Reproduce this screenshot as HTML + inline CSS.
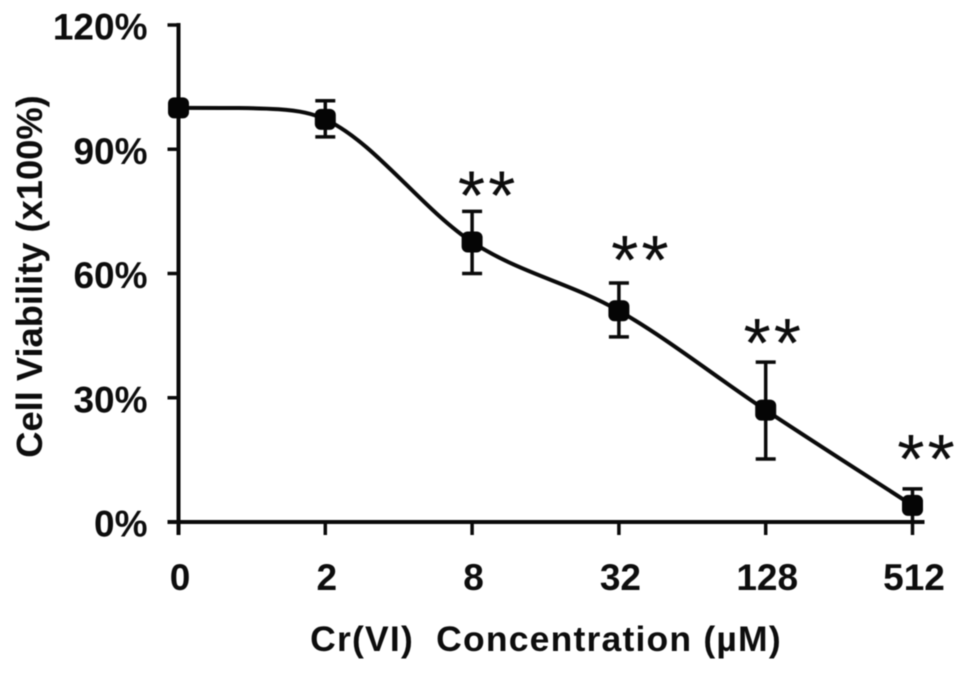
<!DOCTYPE html>
<html>
<head>
<meta charset="utf-8">
<style>
html,body{margin:0;padding:0;background:#fff;width:969px;height:673px;overflow:hidden}
svg{display:block;filter:blur(0.6px)}
text{font-family:"Liberation Sans",sans-serif;fill:#0d0d0d}
.tick{font-size:37px;font-weight:bold}
.title{font-weight:bold}
.star{font-size:70px;font-weight:normal}
</style>
</head>
<body>
<svg id="chart" width="969" height="673" viewBox="0 0 969 673" xmlns="http://www.w3.org/2000/svg">
  <text class="title" x="546" y="651" text-anchor="middle" font-size="35.5" letter-spacing="1.2" xml:space="preserve">Cr(VI)  Concentration (µM)</text>
  <text class="title" transform="translate(42,276.5) rotate(-90)" text-anchor="middle" font-size="36.3">Cell Viability (x100%)</text>
</svg>
<script>
const categories = ['0', '2', '8', '32', '128', '512'];
const viability = [100, 97.2, 67.6, 51, 27, 4];
const errorUpper = [100, 101.7, 75, 57.7, 38.6, 8];
const errorLower = [100, 93, 60, 44.7, 15.2, 0];
const significance = ['', '', '**', '**', '**', '**'];
const yTicks = [0, 30, 60, 90, 120];

const svg = document.getElementById('chart');
const NS = 'http://www.w3.org/2000/svg';
const xStart = 178.5, xStep = 146.8;
const yZero = 522, yScale = 124.25 / 30;
function xAxis(i) { return xStart + i * xStep; }
function yAxis(v) { return yZero - v * yScale; }
function make(tag, attrs, parent) {
  const el = document.createElementNS(NS, tag);
  for (const k in attrs) el.setAttribute(k, attrs[k]);
  (parent || svg).appendChild(el);
  return el;
}
function line(x1, y1, x2, y2, w) {
  return make('line', { x1: x1, y1: y1, x2: x2, y2: y2, stroke: '#0a0a0a', 'stroke-width': w });
}

const yAxisLine = line(xAxis(0), yAxis(120) - 2, xAxis(0), yAxis(0) + 13, 4);


const xAxisLine = line(xAxis(0) - 11, yAxis(0), xAxis(5) + 12, yAxis(0), 4);



yTicks.forEach(function (t) {
  const tk = line(xAxis(0) - 11, yAxis(t), xAxis(0), yAxis(t), 3.5);
  
  
  const lb = make('text', { class: 'tick', x: 147.5, y: yAxis(t) + 14.5, 'text-anchor': 'end' });
  lb.textContent = t + '%';
  
  
});

categories.forEach(function (c, i) {
  const tk = line(xAxis(i), yAxis(0), xAxis(i), yAxis(0) + 13, 3.5);
  
  
  const lb = make('text', { class: 'tick', x: xAxis(i) + 1.5, y: 590, 'text-anchor': 'middle' });
  lb.textContent = c;
  
  
});

/* smooth curve through the data: Catmull-Rom tangents, with handles
   shortened where they would otherwise overshoot a shallow segment */
const px = viability.map(function (v, i) { return xAxis(i); });
const py = viability.map(function (v) { return yAxis(v); });
const slopes = [];
for (let i = 0; i < px.length - 1; i++) slopes.push((py[i + 1] - py[i]) / (px[i + 1] - px[i]));
const tangents = px.map(function (x, i) {
  if (i === 0) return 0;
  if (i === px.length - 1) return slopes[i - 1];
  return (slopes[i - 1] + slopes[i]) / 2;
});
let d = 'M' + px[0] + ' ' + py[0];
for (let i = 0; i < px.length - 1; i++) {
  const dx = px[i + 1] - px[i], dy = py[i + 1] - py[i];
  let hA = dx / 3, hB = dx / 3;
  const t0 = tangents[i], t1 = tangents[i + 1];
  if (Math.abs(t1) * hB > Math.abs(dy)) {
    hB = Math.abs(dy) / Math.abs(t1);
    hA = dx - hB - 25;
  }
  d += ' C' + (px[i] + hA) + ' ' + (py[i] + t0 * hA) + ' ' +
       (px[i + 1] - hB) + ' ' + (py[i + 1] - t1 * hB) + ' ' +
       px[i + 1] + ' ' + py[i + 1];
}
const curve = make('path', { d: d, fill: 'none', stroke: '#0a0a0a', 'stroke-width': 4 });



/* hand-placed nudges for the asterisk annotations, relative to each upper error cap */
const starNudgeX = [0, 0, 16, 22.5, 8, 15];
const starNudgeY = [0, 0, 8, 1, 5, -6];

viability.forEach(function (v, i) {
  const cx = xAxis(i);
  if (errorUpper[i] !== errorLower[i]) {
    const g = make('g', {});
    
    
    const yU = yAxis(errorUpper[i]), yL = yAxis(errorLower[i]);
    make('line', { x1: cx, y1: yU, x2: cx, y2: yL, stroke: '#0a0a0a', 'stroke-width': 3.5 }, g);
    make('line', { x1: cx - 10, y1: yU, x2: cx + 10, y2: yU, stroke: '#0a0a0a', 'stroke-width': 3.5 }, g);
    make('line', { x1: cx - 10, y1: yL, x2: cx + 10, y2: yL, stroke: '#0a0a0a', 'stroke-width': 3.5 }, g);
  }
  const m = make('rect', { x: cx - 10.5, y: yAxis(v) - 10.5, width: 21, height: 21, rx: 6, ry: 6, fill: '#050505' });
  
  
  if (significance[i]) {
    const s = make('text', { class: 'star', x: cx + starNudgeX[i], y: yAxis(errorUpper[i]) + starNudgeY[i], 'text-anchor': 'middle', 'letter-spacing': '3' });
    s.textContent = significance[i];
    
    
  }
});
</script>
</body>
</html>
